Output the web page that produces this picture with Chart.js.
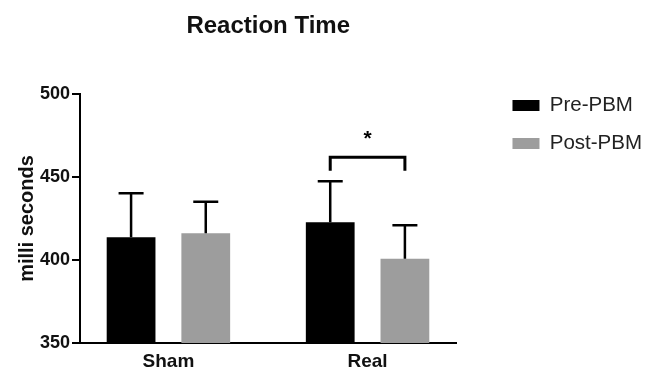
<!DOCTYPE html>
<html>
<head>
<meta charset="utf-8">
<script src="https://cdn.jsdelivr.net/npm/chart.js@4.4.1/dist/chart.umd.min.js"></script>
<style>
  html, body { margin: 0; padding: 0; background: #fff; }
  #wrap { width: 660px; height: 370px; }
</style>
</head>
<body>
<div id="wrap"><canvas id="chart" width="660" height="370"></canvas></div>
<script>
// groups and series
var categories = ['Sham', 'Real'];
var xTickValues = [0, 1];
var seriesNames = ['Pre-PBM', 'Post-PBM'];
var preMeans = [413.7, 422.7];
var postMeans = [416.1, 400.8];
var preErr = [26.5, 24.7];
var postErr = [19.0, 20.1];
var yTicks = [350, 400, 450, 500];

// significance bracket over the Real group
var sigIndex = 1;
var sigTop = 461.9;
var sigLegEnd = 453.8;
var sigStar = 476.5;
var sigLabel = '*';

var barColors = ['#000000', '#9d9d9d'];

Chart.defaults.font.family = '"Liberation Sans", Arial, Helvetica, sans-serif';
Chart.defaults.color = '#111';

function toPoints(values) {
  var pts = [];
  for (var i = 0; i < values.length; i++) {
    pts.push({ x: xTickValues[i], y: values[i] });
  }
  return pts;
}

var errorBars = {
  id: 'errorBars',
  afterDatasetsDraw: function(chart) {
    var ctx = chart.ctx;
    var yScale = chart.scales.y;
    var means = [preMeans, postMeans];
    var errs = [preErr, postErr];
    ctx.save();
    ctx.strokeStyle = '#000';
    ctx.lineWidth = 2.5;
    for (var d = 0; d < means.length; d++) {
      var meta = chart.getDatasetMeta(d);
      for (var i = 0; i < meta.data.length; i++) {
        var bar = meta.data[i];
        var yEnd = yScale.getPixelForValue(means[d][i] + errs[d][i]);
        ctx.beginPath();
        ctx.moveTo(bar.x, bar.y);
        ctx.lineTo(bar.x, yEnd);
        ctx.moveTo(bar.x - 12.5, yEnd);
        ctx.lineTo(bar.x + 12.5, yEnd);
        ctx.stroke();
      }
    }

    // bracket with the star
    var x1 = chart.getDatasetMeta(0).data[sigIndex].x;
    var x2 = chart.getDatasetMeta(1).data[sigIndex].x;
    var yt = yScale.getPixelForValue(sigTop);
    var yl = yScale.getPixelForValue(sigLegEnd);
    ctx.lineWidth = 3;
    ctx.beginPath();
    ctx.moveTo(x1, yl);
    ctx.lineTo(x1, yt);
    ctx.lineTo(x2, yt);
    ctx.lineTo(x2, yl);
    ctx.stroke();
    ctx.fillStyle = '#000';
    ctx.font = 'bold 21px "Liberation Sans", Arial, sans-serif';
    ctx.textAlign = 'center';
    ctx.textBaseline = 'alphabetic';
    ctx.fillText(sigLabel, (x1 + x2) / 2, yScale.getPixelForValue(sigStar) + 12);
    ctx.restore();
  }
};

new Chart(document.getElementById('chart'), {
  type: 'bar',
  data: {
    datasets: [
      { label: seriesNames[0], data: toPoints(preMeans), backgroundColor: barColors[0], borderWidth: 0 },
      { label: seriesNames[1], data: toPoints(postMeans), backgroundColor: barColors[1], borderWidth: 0 }
    ]
  },
  options: {
    responsive: false,
    animation: false,
    categoryPercentage: 0.75,
    barPercentage: 0.653,
    layout: { padding: { left: 0, top: 0, bottom: 0, right: 8 } },
    scales: {
      x: {
        type: 'linear',
        min: -0.444,
        max: 1.446,
        offset: false,
        grid: { display: false, drawTicks: false },
        border: { display: true, color: '#000', width: 2 },
        afterBuildTicks: function(scale) {
          scale.ticks = xTickValues.map(function(v) { return { value: v }; });
        },
        afterFit: function(scale) { scale.height = 27; },
        ticks: {
          padding: 7,
          color: '#111',
          font: { size: 19, weight: 'bold' },
          callback: function(value) { return categories[value]; }
        }
      },
      y: {
        min: 350,
        max: 500,
        afterBuildTicks: function(scale) {
          scale.ticks = yTicks.map(function(v) { return { value: v }; });
        },
        afterFit: function(scale) { scale.width = 80; },
        grid: { drawOnChartArea: false, drawTicks: true, tickLength: 8, color: '#000', lineWidth: 2 },
        border: { display: true, color: '#000', width: 2 },
        ticks: { padding: 2, color: '#111', font: { size: 18, weight: 'bold' } },
        title: {
          display: true,
          text: 'milli seconds',
          color: '#111',
          padding: { top: 15, bottom: 0 },
          font: { size: 20, weight: 'bold' }
        }
      },
      spacer: {
        type: 'linear',
        position: 'right',
        display: true,
        grid: { display: false },
        border: { display: false },
        ticks: { display: false },
        afterFit: function(scale) { scale.width = 38.6; }
      }
    },
    plugins: {
      title: {
        display: true,
        text: 'Reaction Time',
        fullSize: false,
        color: '#111',
        font: { size: 24, weight: 'bold' },
        padding: { top: 12, bottom: 53.2 }
      },
      legend: {
        position: 'right',
        align: 'start',
        maxWidth: 200,
        title: { display: true, text: '', font: { size: 10 }, padding: { top: 65.75, bottom: 0 } },
        labels: {
          boxWidth: 27,
          boxHeight: 11,
          padding: 17.5,
          color: '#222',
          font: { size: 20.5 }
        }
      },
      tooltip: { enabled: false }
    }
  },
  plugins: [errorBars]
});
</script>
</body>
</html>
